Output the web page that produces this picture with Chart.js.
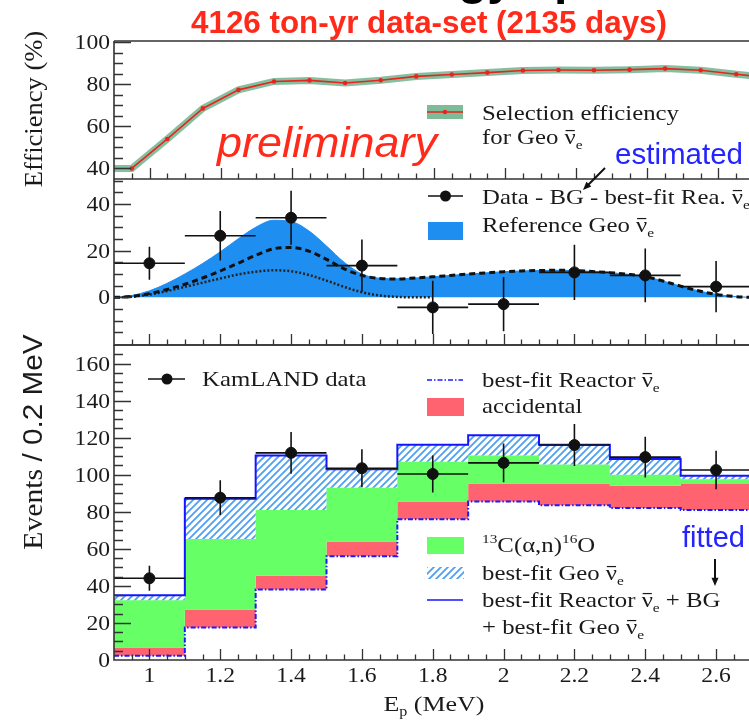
<!DOCTYPE html>
<html>
<head>
<meta charset="utf-8">
<title>Geo neutrino spectrum</title>
<script src="https://cdn.jsdelivr.net/npm/chart.js@4.4.1/dist/chart.umd.min.js"></script>
<style>
  html, body { margin: 0; padding: 0; background: #fff; overflow: hidden; }
  #wrap { position: relative; width: 749px; height: 723px; overflow: hidden; background: #fff; }
  #wrap canvas { position: absolute; left: 0; top: 0; }
</style>
</head>
<body>
<div id="wrap">
  <canvas id="effChart" width="758" height="723"></canvas>
  <canvas id="geoChart" width="758" height="723"></canvas>
  <canvas id="specChart" width="758" height="723"></canvas>
</div>
<script>
// ---- selection efficiency (%), one point per 0.1 MeV
const effEnergy = [0.9, 0.95, 1.05, 1.15, 1.25, 1.35, 1.45, 1.55, 1.65, 1.75, 1.85, 1.95, 2.05, 2.15, 2.25, 2.35, 2.45, 2.55, 2.65, 2.75];
const effValue  = [40, 40, 54, 68.5, 77.3, 81.3, 81.8, 80.6, 81.9, 83.7, 84.6, 85.5, 86.5, 86.7, 86.6, 86.9, 87.4, 86.6, 84.7, 83];

// ---- reference geo spectrum (U + Th, U only, Th only)
const refEnergy = [0.9, 0.95, 1.0, 1.05, 1.1, 1.15, 1.2, 1.25, 1.3, 1.35, 1.4, 1.45, 1.5, 1.55, 1.6, 1.65, 1.7, 1.75, 1.8,
                   1.85, 1.9, 1.95, 2.0, 2.05, 2.1, 2.15, 2.2, 2.25, 2.3, 2.35, 2.4, 2.45, 2.5, 2.55, 2.6, 2.65, 2.7];
const refTotal = [0, 0.8, 2.8, 6, 10, 14.5, 19.5, 25, 30, 33, 32.5, 28.5, 22, 15, 10, 8.2, 8.0, 8.3, 8.8,
                  9.4, 10, 10.5, 11, 11.3, 11.5, 11.6, 11.5, 11.1, 10.6, 9.9, 8.9, 7, 4.8, 2.8, 1.3, 0.4, 0];
const refU     = [0, 0.4, 1.6, 3.4, 5.6, 8.3, 11.3, 14.6, 18, 20.8, 21.4, 19.8, 16.3, 12.2, 9.4, 8.1, 7.9, 8.3, 8.8,
                  9.4, 10, 10.5, 11, 11.3, 11.5, 11.6, 11.5, 11.1, 10.6, 9.9, 8.9, 7, 4.8, 2.8, 1.3, 0.4, 0];
const refTh    = [0, 0.3, 1.2, 2.7, 4.5, 6.3, 8.1, 9.8, 11, 11.6, 11.2, 9.6, 7.2, 4.5, 2.2, 0.8, 0.2, 0, 0];

// ---- data - BG - best-fit reactor, per 0.2 MeV bin
const binCenter    = [1.0, 1.2, 1.4, 1.6, 1.8, 2.0, 2.2, 2.4, 2.6];
const geoExcess    = [14.6, 26.4, 34.1, 13.6, -4.3, -2.9, 10.7, 9.4, 4.6];
const geoExcessErr = [7.1, 10.6, 11.6, 11.2, 11.4, 11.6, 11.8, 11.5, 11];

// ---- stacked spectrum (cumulative tops of each component)
const binEdges      = [0.9, 1.1, 1.3, 1.5, 1.7, 1.9, 2.1, 2.3, 2.5, 2.7];
const reactorFit    = [2.3, 17.6, 38, 56, 76, 85.5, 83.5, 82, 81];
const accidentalTop = [6.7, 27.3, 45.5, 64, 85.5, 95.2, 95.2, 94, 95];
const alphaNTop     = [32.3, 65.3, 81, 93, 107, 110.3, 105.5, 100, 97.5];
const totalFit      = [35, 87, 110.4, 103, 116.2, 121.3, 116.2, 108.5, 99.5];
const kamlandData   = [44.1, 87.6, 111.8, 103.5, 100.4, 106.4, 116, 109.5, 102.5];
const kamlandErr    = [6.7, 9.4, 11.3, 10.3, 10.0, 10.5, 11.3, 11, 10.4];

// ---- axis ticks
const xTickValues = [1, 1.2, 1.4, 1.6, 1.8, 2, 2.2, 2.4, 2.6];
const xTickLabels = ['1', '1.2', '1.4', '1.6', '1.8', '2', '2.2', '2.4', '2.6'];
const effTicks  = [40, 60, 80, 100];
const geoTicks  = [0, 20, 40];
const specTicks = [0, 20, 40, 60, 80, 100, 120, 140, 160];

const SERIF = '"Liberation Serif", "Times New Roman", serif';
const SANS = '"Liberation Sans", Arial, sans-serif';
const SX = 1.18; // text is set a little wide
const NU = '\u03bd';

const pts = (xs, ys) => ys.map((y, i) => ({x: xs[i], y: y}));
const steps = vals => binEdges.map((e, i) => ({x: e, y: vals[Math.min(i, vals.length - 1)]}));

// text with sub/superscripts and overbars, stretched horizontally
function richText(ctx, parts, x, y, size, color, align, sx) {
  sx = sx || SX;
  ctx.save();
  ctx.fillStyle = color; ctx.strokeStyle = color;
  ctx.textBaseline = 'alphabetic'; ctx.textAlign = 'left';
  const segs = parts.map(p => typeof p === 'string' ? {t: p} : Object.assign({}, p));
  let w = 0;
  segs.forEach(s => {
    s.fs = (s.sub || s.sup) ? size * 0.62 : size;
    ctx.font = s.fs + 'px ' + (s.font || SERIF);
    s.w = ctx.measureText(s.t).width * sx;
    w += s.w;
  });
  let cx = align === 'center' ? x - w / 2 : align === 'right' ? x - w : x;
  segs.forEach(s => {
    ctx.font = s.fs + 'px ' + (s.font || SERIF);
    const by = s.sub ? y + size * 0.22 : s.sup ? y - size * 0.42 : y;
    ctx.save(); ctx.translate(cx, by); ctx.scale(sx, 1); ctx.fillText(s.t, 0, 0); ctx.restore();
    if (s.bar) {
      ctx.lineWidth = 1.2;
      ctx.beginPath(); ctx.moveTo(cx + 1, y - size * 0.64); ctx.lineTo(cx + s.w - 1, y - size * 0.64); ctx.stroke();
    }
    cx += s.w;
  });
  ctx.restore();
  return w;
}

function fitText(ctx, txt, x, y, width, font, color) {
  ctx.save();
  ctx.font = font; ctx.fillStyle = color; ctx.textBaseline = 'alphabetic'; ctx.textAlign = 'left';
  const k = width / ctx.measureText(txt).width;
  ctx.translate(x, y); ctx.scale(k, 1); ctx.fillText(txt, 0, 0);
  ctx.restore();
}

function arrow(ctx, x0, y0, x1, y1) {
  const ang = Math.atan2(y1 - y0, x1 - x0), h = 9;
  ctx.save();
  ctx.strokeStyle = '#111'; ctx.fillStyle = '#111'; ctx.lineWidth = 2;
  ctx.beginPath(); ctx.moveTo(x0, y0); ctx.lineTo(x1 - Math.cos(ang) * 5, y1 - Math.sin(ang) * 5); ctx.stroke();
  ctx.beginPath();
  ctx.moveTo(x1, y1);
  ctx.lineTo(x1 - h * Math.cos(ang - 0.4), y1 - h * Math.sin(ang - 0.4));
  ctx.lineTo(x1 - h * Math.cos(ang + 0.4), y1 - h * Math.sin(ang + 0.4));
  ctx.closePath(); ctx.fill();
  ctx.restore();
}

// frame, inward ticks and tick labels of one pad
function axesPlugin(cfg) {
  return {
    id: 'axes',
    afterDatasetsDraw(chart) {
      const ctx = chart.ctx, a = chart.chartArea, xs = chart.scales.x, ys = chart.scales.y;
      ctx.save();
      ctx.strokeStyle = '#333'; ctx.lineWidth = 1.3;
      ctx.beginPath();
      // y ticks every cfg.yMinor, long ones every 20
      for (let k = Math.ceil(ys.min / cfg.yMinor); k * cfg.yMinor <= ys.max; k++) {
        const v = k * cfg.yMinor, py = Math.round(ys.getPixelForValue(v)) + 0.5;
        if (py <= a.top + 1 || py >= a.bottom - 1) continue;
        const len = (Math.abs(v % 20) < 1e-6) ? 17 : 9;
        ctx.moveTo(a.left, py); ctx.lineTo(a.left + len, py);
      }
      // x ticks every 0.05 MeV, long ones at the labelled values
      for (let k = 18; k <= 54; k++) {
        const v = k * 0.05, px = Math.round(xs.getPixelForValue(v)) + 0.5;
        if (px <= a.left + 1 || px >= a.right - 1) continue;
        const len = (k % 4 === 0) ? 11 : 5.5;
        ctx.moveTo(px, a.bottom); ctx.lineTo(px, a.bottom - len);
      }
      ctx.stroke();
      ctx.lineWidth = 1.6;
      ctx.beginPath();
      ctx.moveTo(a.left, a.top); ctx.lineTo(a.left, a.bottom); ctx.lineTo(a.right, a.bottom);
      if (cfg.top) { ctx.moveTo(a.left, a.top); ctx.lineTo(a.right, a.top); }
      ctx.stroke();
      ctx.restore();
      cfg.yTicks.forEach(v => {
        richText(ctx, [String(v)], a.left - 4, ys.getPixelForValue(v) + 7, 20, '#1a1a1a', 'right');
      });
      if (cfg.xLabels) {
        xTickValues.forEach((v, i) => {
          richText(ctx, [xTickLabels[i]], xs.getPixelForValue(v), a.bottom + 22, 20, '#1a1a1a', 'center');
        });
      }
    }
  };
}

// error bars (vertical from errors, horizontal over the 0.2 MeV bin)
function errorPlugin(xv, yv, ev) {
  return {
    id: 'errbars',
    afterDatasetsDraw(chart) {
      const ctx = chart.ctx, xs = chart.scales.x, ys = chart.scales.y, a = chart.chartArea;
      ctx.save();
      ctx.beginPath(); ctx.rect(a.left, a.top, a.right - a.left, a.bottom - a.top); ctx.clip();
      ctx.strokeStyle = '#111'; ctx.lineWidth = 1.6;
      ctx.beginPath();
      xv.forEach((x, i) => {
        const px = xs.getPixelForValue(x), py = ys.getPixelForValue(yv[i]);
        ctx.moveTo(px, ys.getPixelForValue(yv[i] + ev[i])); ctx.lineTo(px, ys.getPixelForValue(yv[i] - ev[i]));
        ctx.moveTo(xs.getPixelForValue(x - 0.1), py); ctx.lineTo(xs.getPixelForValue(x + 0.1), py);
      });
      ctx.stroke();
      ctx.restore();
    }
  };
}

function baseOptions(pad, ymin, ymax) {
  return {
    responsive: false, animation: false, events: [],
    layout: {padding: pad},
    plugins: {legend: {display: false}, tooltip: {enabled: false}},
    scales: {
      x: {type: 'linear', min: 0.9, max: 2.7, display: false},
      y: {type: 'linear', min: ymin, max: ymax, display: false}
    }
  };
}

// hatch pattern for the fitted geo component
const hatch = (function () {
  const c = document.createElement('canvas');
  c.width = 7; c.height = 7;
  const g = c.getContext('2d');
  g.strokeStyle = 'rgb(80,160,240)'; g.lineWidth = 1.8;
  g.beginPath();
  g.moveTo(-1, 8); g.lineTo(8, -1);
  g.moveTo(-1, 1); g.lineTo(1, -1);
  g.moveTo(6, 8); g.lineTo(8, 6);
  g.stroke();
  return g.createPattern(c, 'repeat');
})();

// ================= efficiency pad
new Chart(document.getElementById('effChart'), {
  type: 'line',
  data: {
    datasets: [
      {
        data: pts(effEnergy, effValue).slice(1), borderColor: '#e8241c', borderWidth: 1.6, tension: 0,
        pointRadius: 2.3, pointBackgroundColor: '#e8241c', pointBorderWidth: 0
      },
      {
        data: pts(effEnergy, effValue), borderColor: 'rgba(112,180,142,0.85)', borderWidth: 7,
        tension: 0, pointRadius: 0
      }
    ]
  },
  options: baseOptions({left: 114, top: 41, right: 0, bottom: 544}, 35, 100.5),
  plugins: [axesPlugin({yTicks: effTicks, yMinor: 5, top: true}), {
    id: 'effText',
    afterDraw(chart) {
      const ctx = chart.ctx;
      // heading
      ctx.save();
      ctx.font = 'bold 48px ' + SANS; ctx.fillStyle = '#000';
      const pre = ctx.measureText('Ener').width;
      ctx.fillText('Energy spectrum', 458 - pre, -6);
      ctx.restore();
      fitText(ctx, '4126 ton-yr data-set (2135 days)', 191, 33, 476, 'bold 32px ' + SANS, '#ff2a1a');
      fitText(ctx, 'preliminary', 217, 157, 220, 'italic 42px ' + SANS, '#ff2a1a');
      fitText(ctx, 'estimated', 615, 164, 128, '29px ' + SANS, '#2424ff');
      // legend
      ctx.save();
      ctx.fillStyle = 'rgba(112,180,142,0.9)'; ctx.fillRect(427, 105, 36, 14);
      ctx.strokeStyle = '#e8241c'; ctx.lineWidth = 1.6;
      ctx.beginPath(); ctx.moveTo(427, 112); ctx.lineTo(463, 112); ctx.stroke();
      ctx.fillStyle = '#e8241c'; ctx.beginPath(); ctx.arc(445, 112, 2.3, 0, Math.PI * 2); ctx.fill();
      ctx.restore();
      richText(ctx, ['Selection efficiency'], 482, 120, 21, '#1a1a1a');
      richText(ctx, ['for Geo ', {t: NU, bar: 1}, {t: 'e', sub: 1}], 482, 144, 21, '#1a1a1a');
      // y title
      ctx.save();
      ctx.translate(42, 109); ctx.rotate(-Math.PI / 2);
      richText(ctx, ['Efficiency (%)'], 0, 0, 26, '#1a1a1a', 'center', 1.02);
      ctx.restore();
    }
  }]
});

// ================= reference geo pad
new Chart(document.getElementById('geoChart'), {
  type: 'line',
  data: {
    datasets: [
      {
        data: pts(binCenter, geoExcess), showLine: false, pointRadius: 5.5,
        pointBackgroundColor: '#111', pointBorderColor: '#111'
      },
      {
        data: pts(refEnergy, refU), borderColor: '#111', borderWidth: 3, borderDash: [6, 4],
        cubicInterpolationMode: 'monotone', pointRadius: 0
      },
      {
        data: pts(refEnergy, refTh), borderColor: '#222', borderWidth: 2.5, borderDash: [2, 2],
        cubicInterpolationMode: 'monotone', pointRadius: 0
      },
      {
        data: pts(refEnergy, refTotal), borderColor: '#1f8ef1', borderWidth: 1, fill: 'origin',
        backgroundColor: '#1f8ef1', cubicInterpolationMode: 'monotone', pointRadius: 0
      }
    ]
  },
  options: baseOptions({left: 114, top: 179, right: 0, bottom: 378}, -20.4, 50.7),
  plugins: [errorPlugin(binCenter, geoExcess, geoExcessErr), axesPlugin({yTicks: geoTicks, yMinor: 5, top: false}), {
    id: 'geoText',
    afterDraw(chart) {
      const ctx = chart.ctx;
      arrow(ctx, 605, 168, 583, 190);
      ctx.save();
      ctx.strokeStyle = '#111'; ctx.lineWidth = 1.6;
      ctx.beginPath(); ctx.moveTo(428, 196); ctx.lineTo(463, 196); ctx.stroke();
      ctx.fillStyle = '#111'; ctx.beginPath(); ctx.arc(445.5, 196, 5.5, 0, Math.PI * 2); ctx.fill();
      ctx.fillStyle = '#1f8ef1'; ctx.fillRect(428, 222, 35, 18);
      ctx.restore();
      richText(ctx, ['Data - BG - best-fit Rea. ', {t: NU, bar: 1}, {t: 'e', sub: 1}], 482, 204, 21, '#1a1a1a');
      richText(ctx, ['Reference Geo ', {t: NU, bar: 1}, {t: 'e', sub: 1}], 482, 232, 21, '#1a1a1a');
    }
  }]
});

// ================= stacked spectrum pad
new Chart(document.getElementById('specChart'), {
  type: 'line',
  data: {
    datasets: [
      {
        data: pts(binCenter, kamlandData), showLine: false, pointRadius: 5.5,
        pointBackgroundColor: '#111', pointBorderColor: '#111', order: -1
      },
      {
        data: steps(totalFit), stepped: true, borderColor: '#1414ff', borderWidth: 2,
        fill: 2, backgroundColor: hatch, pointRadius: 0, order: 0
      },
      {
        data: steps(alphaNTop), stepped: true, borderWidth: 0, borderColor: 'rgba(0,0,0,0)',
        fill: 3, backgroundColor: '#66ff66', pointRadius: 0, order: 2
      },
      {
        data: steps(accidentalTop), stepped: true, borderWidth: 0, borderColor: 'rgba(0,0,0,0)',
        fill: 4, backgroundColor: '#ff636f', pointRadius: 0, order: 3
      },
      {
        data: steps(reactorFit), stepped: true, borderColor: '#1a1aff', borderWidth: 2,
        borderDash: [5, 2, 1.5, 2], fill: false, pointRadius: 0, order: 0
      }
    ]
  },
  options: baseOptions({left: 114, top: 345, right: 0, bottom: 63}, 0, 170),
  plugins: [errorPlugin(binCenter, kamlandData, kamlandErr), axesPlugin({yTicks: specTicks, yMinor: 5, top: true, xLabels: true}), {
    id: 'specText',
    afterDraw(chart) {
      const ctx = chart.ctx;
      // legend, left column
      ctx.save();
      ctx.strokeStyle = '#111'; ctx.lineWidth = 1.6;
      ctx.beginPath(); ctx.moveTo(148, 379); ctx.lineTo(185, 379); ctx.stroke();
      ctx.fillStyle = '#111'; ctx.beginPath(); ctx.arc(167, 379, 5.5, 0, Math.PI * 2); ctx.fill();
      // legend, right column
      ctx.strokeStyle = '#1a1aff'; ctx.lineWidth = 1.6; ctx.setLineDash([5, 2, 1.5, 2]);
      ctx.beginPath(); ctx.moveTo(427, 380); ctx.lineTo(463, 380); ctx.stroke();
      ctx.setLineDash([]);
      ctx.fillStyle = '#ff636f'; ctx.fillRect(427, 398, 37, 18);
      ctx.fillStyle = '#66ff66'; ctx.fillRect(427, 537, 37, 17);
      ctx.fillStyle = hatch; ctx.fillRect(427, 567, 37, 12);
      ctx.strokeStyle = '#1414ff'; ctx.lineWidth = 1.6;
      ctx.beginPath(); ctx.moveTo(427, 600); ctx.lineTo(463, 600); ctx.stroke();
      ctx.restore();
      richText(ctx, ['KamLAND data'], 202, 386, 21, '#1a1a1a');
      richText(ctx, ['best-fit Reactor ', {t: NU, bar: 1}, {t: 'e', sub: 1}], 482, 387, 21, '#1a1a1a');
      richText(ctx, ['accidental'], 482, 413, 21, '#1a1a1a');
      richText(ctx, [{t: '13', sup: 1}, 'C(\u03b1,n)', {t: '16', sup: 1}, 'O'], 482, 552, 21, '#1a1a1a');
      richText(ctx, ['best-fit Geo ', {t: NU, bar: 1}, {t: 'e', sub: 1}], 482, 580, 21, '#1a1a1a');
      richText(ctx, ['best-fit Reactor ', {t: NU, bar: 1}, {t: 'e', sub: 1}, ' + BG'], 482, 607, 21, '#1a1a1a');
      richText(ctx, ['+ best-fit Geo ', {t: NU, bar: 1}, {t: 'e', sub: 1}], 482, 634, 21, '#1a1a1a');
      fitText(ctx, 'fitted', 682, 547, 63, '29px ' + SANS, '#2424ff');
      arrow(ctx, 715, 559, 715, 586);
      // axis titles
      richText(ctx, ['E', {t: 'p', sub: 1}, ' (MeV)'], 434, 711, 22, '#1a1a1a', 'center');
      ctx.save();
      ctx.translate(42, 442); ctx.rotate(-Math.PI / 2);
      richText(ctx, ['Events ', {t: '/ 0.2 MeV', font: SANS}], 0, 0, 27, '#1a1a1a', 'center', 1.1);
      ctx.restore();
    }
  }]
});
</script>
</body>
</html>
